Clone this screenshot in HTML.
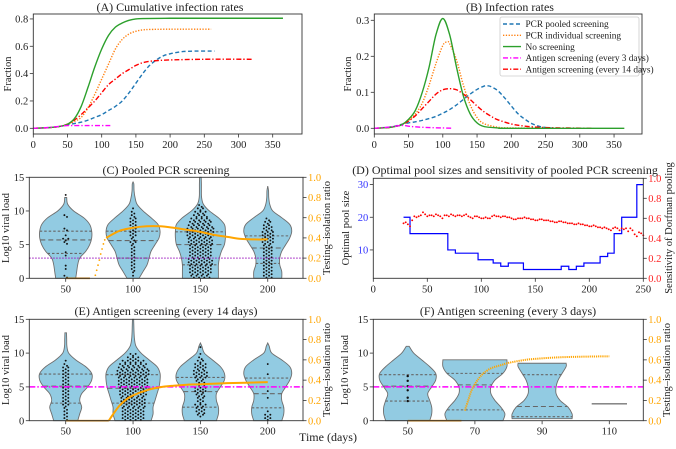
<!DOCTYPE html>
<html><head><meta charset="utf-8"><style>
html,body{margin:0;padding:0;background:#fff}
svg, svg text{font-family:"Liberation Serif","Times New Roman",serif}
</style></head><body>
<svg id="fig" width="676" height="444" viewBox="0 0 676 444" xmlns="http://www.w3.org/2000/svg" font-family="Liberation Serif, serif"></svg>
<script>
// ---------- DATA ----------
const aDaysGreen=[0,10,20,30,40,50,60,70,80,90,100,110,120,130,140,150,160,200,250,300,365];
const aGreen=[0,0.002,0.004,0.008,0.015,0.03,0.07,0.16,0.3,0.45,0.58,0.68,0.74,0.77,0.79,0.80,0.803,0.805,0.805,0.805,0.805];
const aDaysOrange=[0,10,20,30,40,50,60,70,80,90,100,110,120,130,140,150,160,170,200,260];
const aOrange=[0,0.002,0.004,0.008,0.015,0.03,0.05,0.08,0.15,0.25,0.36,0.47,0.58,0.65,0.69,0.71,0.72,0.723,0.725,0.725];
const aDaysRed=[0,10,20,30,40,50,60,70,80,90,100,110,120,130,140,150,160,170,180,200,250,320];
const aRed=[0,0.002,0.004,0.008,0.015,0.03,0.06,0.1,0.15,0.2,0.26,0.32,0.36,0.40,0.43,0.46,0.48,0.49,0.495,0.5,0.505,0.505];
const aDaysBlue=[0,10,20,30,40,50,60,70,80,90,100,110,120,130,140,150,160,170,180,190,200,210,220,240,265];
const aBlue=[0,0.002,0.004,0.008,0.015,0.025,0.035,0.045,0.06,0.08,0.1,0.13,0.16,0.2,0.26,0.33,0.40,0.46,0.50,0.53,0.545,0.555,0.562,0.565,0.565];
const aDaysMag=[0,20,40,50,80,115];
const aMag=[0,0.005,0.015,0.02,0.02,0.02];
const bDaysGreen=[0,20,30,40,50,60,70,80,90,100,110,120,130,140,150,160,180,200,365];
const bGreen=[0,0.002,0.005,0.01,0.025,0.05,0.1,0.17,0.26,0.305,0.26,0.17,0.09,0.04,0.015,0.005,0.001,0,0];
const bDaysOrange=[0,20,30,40,50,60,70,80,90,100,106,110,120,130,140,150,160,180,200,260];
const bOrange=[0,0.002,0.005,0.01,0.022,0.04,0.07,0.12,0.18,0.23,0.24,0.235,0.19,0.12,0.065,0.03,0.013,0.003,0.001,0];
const bDaysRed=[0,20,30,40,50,60,70,80,90,100,110,120,130,140,150,160,170,180,200,220,250,320];
const bRed=[0,0.002,0.005,0.01,0.02,0.035,0.055,0.075,0.095,0.107,0.11,0.107,0.095,0.08,0.062,0.046,0.034,0.024,0.012,0.006,0.002,0];
const bDaysBlue=[0,20,30,40,50,60,70,80,90,100,110,120,130,140,150,160,165,170,180,190,200,210,220,230,240,250,265];
const bBlue=[0,0.003,0.006,0.011,0.015,0.018,0.022,0.027,0.033,0.042,0.052,0.065,0.08,0.095,0.108,0.117,0.118,0.116,0.105,0.085,0.062,0.04,0.025,0.013,0.006,0.002,0];
const bDaysMag=[0,20,40,50,60,80,100,115];
const bMag=[0,0.003,0.008,0.006,0.004,0.002,0.001,0];
const cDays=[50,100,150,200];
const cWidth=[[10,11,12,14,20,24,26,26,24,18,8,2,1,0.6,0,0],[6,10,14,16,18,22,26,27,25,18,10,4,2,1,0.8,0],[18,18,18,19,21,24,25,25,24,18,9,3,1.2,1,1,0.8],[14,14,12,12,14,18,22,24,22,14,5,2,1,0.8,0,0]];
const cTop=[12,14.3,15,13.7];
const cCounts=[[2,0,1,1,0,0,1,1,0,0,2,3,1,0,2,0,0,0,2,0,0,0,0,0,1],[1,1,2,2,2,2,2,2,2,2,3,2,3,3,3,3,3,3,2,2,1],[8,9,9,9,10,10,9,9,9,9,10,10,11,11,11,10,9,8,6,5,3,2],[4,4,4,4,4,4,4,4,4,4,5,5,5,5,4,4,3,2]];
const cQuart=[[3.7,5.7,7.0],[3.0,5.6,7.0],[2.0,5.0,6.9],[2.2,4.5,6.3]];
const cRatioDays=[80,90,100,110,120,130,140,150,160,170,180,190,200];
const cRatio=[0.4,0.47,0.5,0.515,0.515,0.5,0.48,0.46,0.43,0.41,0.39,0.385,0.385];
const cRatioDotDays=[72,73,74,75,76,77,78,79];
const cRatioDot=[0.03,0.08,0.13,0.18,0.24,0.29,0.34,0.38];
const cThreshold=3;
const dStepDays=[28,34,69,76,97,111,118,125,139,174,181,188,195,210,217,223,230,244,250];
const dStepSize=[20,15,10,9,7,6,5,6,4,5,4,5,6,8,9,15,20,30,30];
const dSensStart=28;
const dSens=[0.55,0.56,0.54,0.52,0.58,0.62,0.61,0.62,0.63,0.66,0.64,0.62,0.63,0.63,0.62,0.64,0.63,0.62,0.6,0.63,0.63,0.62,0.64,0.63,0.62,0.63,0.63,0.62,0.63,0.64,0.62,0.61,0.6,0.62,0.62,0.61,0.6,0.6,0.61,0.6,0.6,0.62,0.63,0.62,0.62,0.61,0.62,0.62,0.61,0.61,0.6,0.59,0.59,0.6,0.6,0.6,0.61,0.6,0.6,0.59,0.59,0.58,0.58,0.59,0.59,0.58,0.58,0.58,0.57,0.57,0.56,0.56,0.57,0.57,0.56,0.56,0.55,0.55,0.55,0.54,0.54,0.55,0.54,0.54,0.53,0.53,0.52,0.52,0.53,0.52,0.51,0.51,0.5,0.51,0.5,0.49,0.48,0.5,0.51,0.5,0.48,0.5,0.49,0.5,0.47,0.5,0.48,0.44,0.42,0.46,0.45,0.43];
const eDays=[50,100,150,200];
const eWidth=[[12,14,16,14,16,22,26,26,20,10,3,1.2,1,0.8,0,0],[18,20,20,22,24,26,27,27,24,16,8,3,1.5,1,0.8,0.6],[16,18,18,16,16,20,24,24,20,12,4,1.5,0,0,0,0],[14,16,16,14,14,18,22,24,22,14,4,1.5,0,0,0,0]];
const eTop=[13,15,11.5,11.5];
const eCounts=[[2,2,2,2,3,3,3,3,3,3,3,3,3,3,3,3,2,1],[9,9,9,9,10,10,10,11,11,11,12,12,12,13,13,12,11,9,5,3],[0,3,4,4,5,3,3,4,5,5,4,4,5,6,6,5,5,3,2,1,0,1],[3,3,1,0,0,0,1,0,1,0,0,0,0,1,0,0,1]];
const eQuart=[[2.6,5.1,6.9],[2.6,4.8,6.8],[2.0,4.3,6.4],[1.9,4.0,6.3]];
const eRatioDays=[82,85,90,95,100,110,120,130,140,150,170,200];
const eRatio=[0,0.06,0.15,0.21,0.25,0.3,0.33,0.345,0.355,0.36,0.37,0.38];
const eThreshold=5;
const fDays=[50,70,90];
const fWidth=[[22,24,24,22,20,24,28,28,22,14,6,1.5,0],[28,30,26,20,16,16,20,28,32,32],[30,30,26,18,14,14,16,20,24]];
const fTop=[11,9,8.5];
const fBottom=[0,0,0.3];
const fQuart=[[2.9,5.1,6.8],[1.6,5.3,7.0],[0.6,2.1,6.8]];
const fDots=[2.9,3.4,4.5,5.1,5.9,6.6];
const fRatioDays=[67,68,69,70,71,72,73,75,78,80,85,90,95,100,105,110];
const fRatio=[0.1,0.2,0.3,0.36,0.41,0.45,0.48,0.52,0.55,0.57,0.6,0.615,0.625,0.63,0.633,0.635];
const fLine110=2.5;

// ---------- HELPERS ----------
const NS="http://www.w3.org/2000/svg", svg=document.getElementById('fig');
const FONT='Liberation Serif, Times New Roman, serif';
function el(tag,attrs,parent,text){const e=document.createElementNS(NS,tag);for(const k in attrs)e.setAttribute(k,attrs[k]);if(tag==='text')e.setAttribute('font-family',FONT);if(text!==undefined)e.textContent=text;(parent||svg).appendChild(e);return e;}
function smooth(pts){if(pts.length<2)return'';let d='M'+pts[0][0].toFixed(2)+','+pts[0][1].toFixed(2);for(let i=0;i<pts.length-1;i++){const p0=pts[i-1]||pts[i],p1=pts[i],p2=pts[i+1],p3=pts[i+2]||p2;const c1=[p1[0]+(p2[0]-p0[0])/6,p1[1]+(p2[1]-p0[1])/6],c2=[p2[0]-(p3[0]-p1[0])/6,p2[1]-(p3[1]-p1[1])/6];d+='C'+c1[0].toFixed(2)+','+c1[1].toFixed(2)+' '+c2[0].toFixed(2)+','+c2[1].toFixed(2)+' '+p2[0].toFixed(2)+','+p2[1].toFixed(2);}return d;}
function frame(g,x0,x1,y0,y1,name){const r=el('rect',{x:x0,y:y0,width:x1-x0,height:y1-y0,fill:'none',stroke:'#333','stroke-width':0.9},g);}
function xticks(g,vals,fx,y,name){vals.forEach(v=>{const x=fx(v);el('line',{x1:x,x2:x,y1:y,y2:y+3.5,stroke:'#333','stroke-width':0.8},g);const t=el('text',{x:x,y:y+14,'font-size':10.5,'text-anchor':'middle',fill:'#222'},g,String(v));});}
function yticks(g,vals,fy,x,side,color,name,fmt){vals.forEach(v=>{const y=fy(v);const dx=side==='left'?-3.5:3.5;el('line',{x1:x,x2:x+dx,y1:y,y2:y,stroke:'#333','stroke-width':0.8},g);const t=el('text',{x:x+(side==='left'?-5:5),y:y+3.6,'font-size':10.5,'text-anchor':side==='left'?'end':'start',fill:color},g,fmt?fmt(v):String(v));});}
function vlabel(g,x,y,txt,name,color){const t=el('text',{x:x,y:y,'font-size':10.5,'text-anchor':'middle',fill:color||'#222',transform:'rotate(-90 '+x+' '+y+')'},g,txt);}
function title(g,x,y,txt,name){const t=el('text',{x:x,y:y,'font-size':12,'text-anchor':'middle',fill:'#222'},g,txt);}
function line(g,days,vals,fx,fy,color,dash,name,w){const p=el('path',{d:smooth(days.map((d,i)=>[fx(d),fy(vals[i])])),fill:'none',stroke:color,'stroke-width':w||1.4,'stroke-dasharray':dash||'none'},g);return p;}
function violin(g,cx,widths,top,bottom,fy,name,flatTop){
  const pts=[];for(let i=0;i<widths.length;i++){if(i<=top&&i>=Math.floor(bottom))pts.push([Math.max(i,bottom),widths[i]]);}
  if(pts[pts.length-1][0]<top)pts.push([top,flatTop?widths[widths.length-1]:0]);
  const right=pts.map(p=>[cx+p[1],fy(p[0])]);const left=pts.slice().reverse().map(p=>[cx-p[1],fy(p[0])]);
  let d=smooth(right);d+=' L'+left[0][0].toFixed(2)+','+left[0][1].toFixed(2)+smooth(left).replace(/^M[^C]*/,'')+'Z';
  const p=el('path',{d:d,fill:'#92cbe2',stroke:'#6e6e6e','stroke-width':0.9},g);
  return pts;}
function hwAt(pts,v){for(let i=0;i<pts.length-1;i++){if(v>=pts[i][0]&&v<=pts[i+1][0]){const t=(v-pts[i][0])/(pts[i+1][0]-pts[i][0]);return pts[i][1]+(pts[i+1][1]-pts[i][1])*t;}}return 0;}
function quartiles(g,cx,pts,q,fy,name){q.forEach((v,i)=>{const w=hwAt(pts,v);const l=el('line',{x1:cx-w,x2:cx+w,y1:fy(v),y2:fy(v),stroke:'#666','stroke-width':1.1,'stroke-dasharray':i===1?'5,3':'2.5,2'},g);});}
function swarm(g,cx,counts,fy,name){const gg=el('g',{},g);counts.forEach((n,i)=>{const y=fy((i+0.5)*0.5);for(let k=0;k<n;k++){const off=(k-(n-1)/2)*2.6;el('circle',{cx:cx+off,cy:y+((k%2)?0.9:-0.9),r:0.95,fill:'#111'},gg);}});}

// ---------- PANEL A ----------
(function(){const g=el('g',{});
const fx=d=>33.3+d*0.684, fy=v=>128.3-v*136.7;
title(g,170,11,'(A) Cumulative infection rates','panel-a-title');
line(g,aDaysBlue,aBlue,fx,fy,'#1f77b4','4,2.5','line-pcr-pooled');
line(g,aDaysOrange,aOrange,fx,fy,'#ff7f0e','1.3,1.5','line-pcr-individual');
line(g,aDaysRed,aRed,fx,fy,'#ff0000','5,2,1.3,2','line-antigen-14');
line(g,aDaysGreen,aGreen,fx,fy,'#2ca02c','none','line-no-screening');
line(g,aDaysMag,aMag,fx,fy,'#ff00ff','5,2,1.3,2','line-antigen-3');
frame(g,33.3,302,14,134,'panel-a-axes');
xticks(g,[0,50,100,150,200,250,300,350],fx,134,'x-tick-a');
yticks(g,[0,0.2,0.4,0.6,0.8],fy,33.3,'left','#222','y-tick-a',v=>v.toFixed(1));
vlabel(g,11,74,'Fraction','y-axis-title-a');})();

// ---------- PANEL B ----------
(function(){const g=el('g',{});
const fx=d=>374.3+d*0.685, fy=v=>128.3-v*360;
title(g,510,11,'(B) Infection rates','panel-b-title');
line(g,bDaysBlue,bBlue,fx,fy,'#1f77b4','4,2.5','line-pcr-pooled-b');
line(g,bDaysOrange,bOrange,fx,fy,'#ff7f0e','1.3,1.5','line-pcr-individual-b');
line(g,bDaysRed,bRed,fx,fy,'#ff0000','5,2,1.3,2','line-antigen-14-b');
line(g,bDaysGreen,bGreen,fx,fy,'#2ca02c','none','line-no-screening-b');
line(g,bDaysMag,bMag,fx,fy,'#ff00ff','5,2,1.3,2','line-antigen-3-b');
frame(g,374.3,642,14,134,'panel-b-axes');
xticks(g,[0,50,100,150,200,250,300,350],fx,134,'x-tick-b');
yticks(g,[0,0.1,0.2,0.3],fy,374.3,'left','#222','y-tick-b',v=>v.toFixed(1));
vlabel(g,351,74,'Fraction','y-axis-title-b');
const lg=el('g',{},g);
el('rect',{x:500,y:17,width:139,height:59,rx:2,fill:'#fff',stroke:'#ccc','stroke-width':0.8},lg);
const items=[['PCR pooled screening','#1f77b4','4,2.5'],['PCR individual screening','#ff7f0e','1.3,1.5'],['No screening','#2ca02c','none'],['Antigen screening (every 3 days)','#ff00ff','5,2,1.3,2'],['Antigen screening (every 14 days)','#ff0000','5,2,1.3,2']];
items.forEach((it,i)=>{const y=24+i*11.3;const e=el('g',{},lg);
el('line',{x1:503,x2:521,y1:y,y2:y,stroke:it[1],'stroke-width':1.4,'stroke-dasharray':it[2]},e);
el('text',{x:525.5,y:y+3.2,'font-size':9.3,fill:'#222'},e,it[0]);});})();

// ---------- PANEL C ----------
(function(){const g=el('g',{});
const fx=d=>65.7+(d-50)*1.347, fy=v=>278.3-v*6.733, fr=r=>278.3-r*101;
title(g,166,174,'(C) Pooled PCR screening','panel-c-title');
cDays.forEach((d,i)=>{const pts=violin(g,fx(d),cWidth[i],cTop[i],0,fy,'violin-c-'+d);quartiles(g,fx(d),pts,cQuart[i],fy,'quartile-c');swarm(g,fx(d),cCounts[i],fy,'swarm-c-'+d);});
const th=el('line',{x1:29.3,x2:303,y1:fy(cThreshold),y2:fy(cThreshold),stroke:'#a020c0','stroke-width':1.2,'stroke-dasharray':'1.3,1.7'},g);
const z=el('line',{x1:fx(50),x2:fx(68),y1:fr(0),y2:fr(0),stroke:'#c87800','stroke-width':1.6},g);
cRatioDotDays.forEach((d,i)=>{const c=el('circle',{cx:fx(d),cy:fr(cRatioDot[i]),r:0.9,fill:'#ffa500'},g);});
line(g,cRatioDays,cRatio,fx,fr,'#ffa500','none','ratio-line-c',2);
frame(g,29.3,303,177.3,278.3,'panel-c-axes');
xticks(g,[50,100,150,200],fx,278.3,'x-tick-c');
yticks(g,[0,5,10,15],fy,29.3,'left','#222','y-tick-c');
yticks(g,[0,0.2,0.4,0.6,0.8,1.0],fr,303,'right','#ffa500','y2-tick-c',v=>v.toFixed(1));
vlabel(g,9,228,'Log10 viral load','y-axis-title-c');
vlabel(g,330,228,'Testing–isolation ratio','y2-axis-title-c');})();

// ---------- PANEL D ----------
(function(){const g=el('g',{});
const fx=d=>373.3+d*1.08, fy=v=>282.6-v*3.267, fr=r=>278.3-r*100;
title(g,505,174,'(D) Optimal pool sizes and sensitivity of pooled PCR screening','panel-d-title');
let d='';dStepDays.forEach((x,i)=>{if(i===0)d='M'+fx(x)+','+fy(dStepSize[0]);else d+=' H'+fx(x)+' V'+fy(dStepSize[i]);});
const p=el('path',{d:d,fill:'none',stroke:'#0000ff','stroke-width':1.2},g);
const sg=el('g',{},g);
dSens.forEach((v,i)=>{const day=dSensStart+i*2;el('circle',{cx:fx(day),cy:fr(v),r:0.95,fill:'#ff0000'},sg);});
frame(g,373.3,643.3,178.3,278.3,'panel-d-axes');
xticks(g,[0,50,100,150,200,250],fx,278.3,'x-tick-d');
yticks(g,[10,20,30],fy,373.3,'left','#3333ff','y-tick-d');
yticks(g,[0,0.2,0.4,0.6,0.8,1.0],fr,643.3,'right','#ff2222','y2-tick-d',v=>v.toFixed(1));
vlabel(g,349,228,'Optimal pool size','y-axis-title-d');
vlabel(g,672,228,'Sensitivity of Dorfman pooling','y2-axis-title-d');})();

// ---------- PANEL E ----------
(function(){const g=el('g',{});
const fx=d=>65.7+(d-50)*1.347, fy=v=>420.7-v*6.76, fr=r=>420.7-r*101.4;
title(g,166,315,'(E) Antigen screening (every 14 days)','panel-e-title');
eDays.forEach((d,i)=>{const pts=violin(g,fx(d),eWidth[i],eTop[i],0,fy,'violin-e-'+d);quartiles(g,fx(d),pts,eQuart[i],fy,'quartile-e');swarm(g,fx(d),eCounts[i],fy,'swarm-e-'+d);});
const th=el('line',{x1:29.3,x2:303,y1:fy(eThreshold),y2:fy(eThreshold),stroke:'#ff00ff','stroke-width':1.5,'stroke-dasharray':'6,2,1.5,2'},g);
const z=el('line',{x1:fx(50),x2:fx(82),y1:fr(0),y2:fr(0),stroke:'#c87800','stroke-width':1.6},g);
line(g,eRatioDays,eRatio,fx,fr,'#ffa500','none','ratio-line-e',2);
frame(g,29.3,303,319.3,420.7,'panel-e-axes');
xticks(g,[50,100,150,200],fx,420.7,'x-tick-e');
yticks(g,[0,5,10,15],fy,29.3,'left','#222','y-tick-e');
yticks(g,[0,0.2,0.4,0.6,0.8,1.0],fr,303,'right','#ffa500','y2-tick-e',v=>v.toFixed(1));
vlabel(g,9,370,'Log10 viral load','y-axis-title-e');
vlabel(g,330,370,'Testing–isolation ratio','y2-axis-title-e');
const t=el('text',{x:328,y:441,'font-size':12,'text-anchor':'middle',fill:'#222'},g,'Time (days)');})();

// ---------- PANEL F ----------
(function(){const g=el('g',{});
const fx=d=>407.7+(d-50)*3.36, fy=v=>420.7-v*6.76, fr=r=>420.7-r*101.4;
title(g,508,315,'(F) Antigen screening (every 3 days)','panel-f-title');
fDays.forEach((d,i)=>{const pts=violin(g,fx(d),fWidth[i],fTop[i],fBottom[i],fy,'violin-f-'+d,i>0);quartiles(g,fx(d),pts,fQuart[i],fy,'quartile-f');});
const sg=el('g',{},g);
fDots.forEach(v=>el('circle',{cx:fx(50),cy:fy(v),r:1.2,fill:'#111'},sg));
const l110=el('line',{x1:591.7,x2:627,y1:fy(fLine110),y2:fy(fLine110),stroke:'#777','stroke-width':1.4},g);
const th=el('line',{x1:373.3,x2:643.3,y1:fy(eThreshold),y2:fy(eThreshold),stroke:'#ff00ff','stroke-width':1.5,'stroke-dasharray':'6,2,1.5,2'},g);
const z=el('line',{x1:fx(50),x2:fx(66),y1:fr(0),y2:fr(0),stroke:'#c87800','stroke-width':1.6},g);
line(g,fRatioDays,fRatio,fx,fr,'#ffa500','1.2,0.9','ratio-line-f',2);
frame(g,373.3,643.3,319.3,420.7,'panel-f-axes');
xticks(g,[50,70,90,110],fx,420.7,'x-tick-f');
yticks(g,[0,5,10,15],fy,373.3,'left','#222','y-tick-f');
yticks(g,[0,0.2,0.4,0.6,0.8,1.0],fr,643.3,'right','#ffa500','y2-tick-f',v=>v.toFixed(1));
vlabel(g,348,370,'Log10 viral load','y-axis-title-f');
vlabel(g,670,370,'Testing–isolation ratio','y2-axis-title-f');})();
</script>
</body></html>
